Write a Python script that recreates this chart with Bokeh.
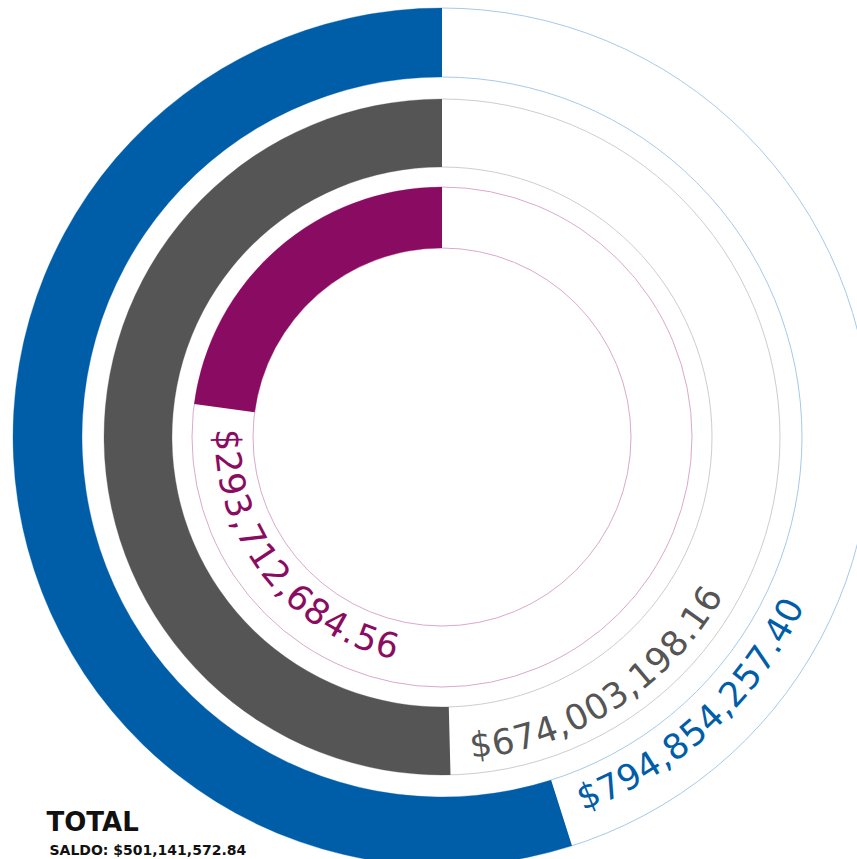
import math
from bokeh.plotting import figure
from bokeh.models import Range1d
from bokeh.core.properties import value
from bokeh.embed import file_html
from bokeh.resources import INLINE

# ---- data ----
ring_names = ["Total", "Segment A", "Segment B"]
ring_values = ["$794,854,257.40", "$674,003,198.16", "$293,712,684.56"]
ring_share_pct = [54.9, 50.4, 22.9]  # portion of each ring that is filled
ring_colors = ["#005DA8", "#555555", "#8A0C62"]
track_colors = ["#a6c9ea", "#cdcdcd", "#dca8ca"]
title_text = "TOTAL"
saldo_text = "SALDO: $501,141,572.84"

# ---- layout ----
W, H = 857, 859
CX, CY = 441.5, H - 436.5
inner_r = [360, 270, 189]
outer_r = [429, 338, 250]
text_r = [387, 310, 214]
FS = 35
GAP = 20
char_em = {",": 0.318, ".": 0.318}

p = figure(width=W, height=H, x_range=Range1d(0, W), y_range=Range1d(0, H),
           output_backend="svg", toolbar_location=None, min_border=0)
p.axis.visible = False
p.grid.visible = False
p.outline_line_color = None
p.background_fill_color = "white"
p.border_fill_color = "white"

for ri, ro, rt, share, col, tcol, label in zip(inner_r, outer_r, text_r, ring_share_pct,
                                                ring_colors, track_colors, ring_values):
    p.annulus(x=CX, y=CY, inner_radius=ri, outer_radius=ro, fill_color=None,
              line_color=tcol, line_width=1)
    end = math.pi / 2 + 2 * math.pi * share / 100.0
    p.annular_wedge(x=CX, y=CY, inner_radius=ri, outer_radius=ro,
                    start_angle=math.pi / 2, end_angle=end, direction="anticlock",
                    fill_color=col, line_color=None)
    # curved label
    xs, ys, angs, chars = [], [], [], []
    s = GAP
    for ch in label:
        w = char_em.get(ch, 0.636) * FS
        sc = s + w / 2
        th = end + sc / rt
        xs.append(CX + rt * math.cos(th))
        ys.append(CY + rt * math.sin(th))
        angs.append(th + math.pi / 2)
        chars.append(ch)
        s += w
    p.text(x=xs, y=ys, text=chars, angle=angs, text_font=value("DejaVu Sans"),
           text_font_size=f"{FS}px", text_color=col, text_align="center",
           text_baseline="middle")

p.text(x=[46], y=[38], text=[title_text], text_font=value("DejaVu Sans"),
       text_font_style="bold", text_font_size="26px", text_color="#111111",
       text_baseline="alphabetic", text_align="left")
p.text(x=[49], y=[10], text=[saldo_text], text_font=value("DejaVu Sans"),
       text_font_style="bold", text_font_size="14px", text_color="#111111",
       text_baseline="alphabetic", text_align="left")

open("out.html", "w").write(file_html(p, INLINE))
